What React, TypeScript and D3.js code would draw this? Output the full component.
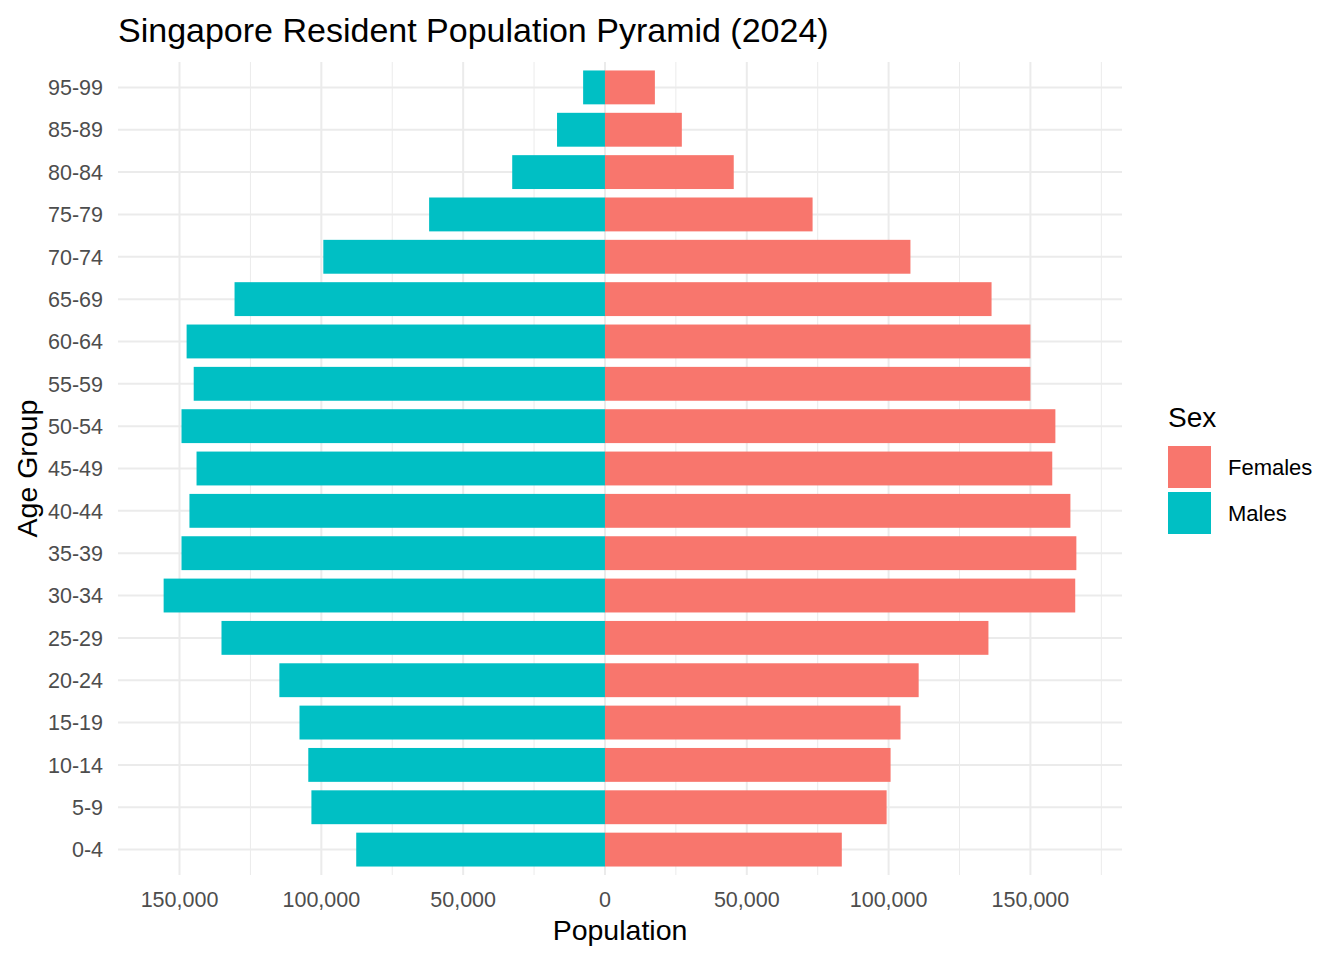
import * as d3 from "d3";

// age groups, bottom to top (90-94 is absent in the source)
const ageGroups = [
  "0-4", "5-9", "10-14", "15-19", "20-24", "25-29", "30-34", "35-39", "40-44",
  "45-49", "50-54", "55-59", "60-64", "65-69", "70-74", "75-79", "80-84", "85-89", "95-99",
];
const males = [
  87700, 103500, 104600, 107700, 114800, 135200, 155600, 149300, 146500,
  144000, 149300, 145000, 147500, 130600, 99300, 62000, 32700, 16900, 7700,
];
const females = [
  83500, 99300, 100700, 104200, 110600, 135200, 165800, 166200, 164100,
  157700, 158800, 150000, 150000, 136300, 107700, 73200, 45400, 27100, 17600,
];
const xTicks = [-150000, -100000, -50000, 0, 50000, 100000, 150000];
const xMinorTicks = [-125000, -75000, -25000, 25000, 75000, 125000, 175000];
const seriesNames = ["Females", "Males"];
const seriesColors = ["#F8766D", "#00BFC4"];

const W = 1344;
const H = 960;
const panel = { left: 118, right: 1122, top: 62, bottom: 875 };
const font = "'Liberation Sans', Arial, sans-serif";

export default function App() {
  // ggplot-style 5% expansion of the data range
  const lo = -d3.max(males)!;
  const hi = d3.max(females)!;
  const pad = (hi - lo) * 0.05;
  const x = d3.scaleLinear().domain([lo - pad, hi + pad]).range([panel.left, panel.right]);

  // discrete axis with 0.6 unit expansion on each side
  const n = ageGroups.length;
  const y = d3
    .scaleLinear()
    .domain([-0.6, n - 1 + 0.6])
    .range([panel.bottom, panel.top]);
  const step = Math.abs(y(1) - y(0));
  const barH = step * 0.8;
  const fmt = d3.format(",");

  return (
    <svg width={W} height={H} style={{ display: "block", position: "absolute", left: 0, top: 0 }}>
      <rect width={W} height={H} fill="#fff" />
      {/* minor grid */}
      {xMinorTicks
        .filter((t) => x(t) >= panel.left && x(t) <= panel.right)
        .map((t) => (
          <line key={"mx" + t} x1={x(t)} x2={x(t)} y1={panel.top} y2={panel.bottom} stroke="#EBEBEB" strokeWidth={1} />
        ))}
      {/* major grid */}
      {xTicks.map((t) => (
        <line key={"gx" + t} x1={x(t)} x2={x(t)} y1={panel.top} y2={panel.bottom} stroke="#EBEBEB" strokeWidth={2} />
      ))}
      {ageGroups.map((g, i) => (
        <line key={"gy" + g} x1={panel.left} x2={panel.right} y1={y(i)} y2={y(i)} stroke="#EBEBEB" strokeWidth={2} />
      ))}
      {/* bars */}
      {ageGroups.map((g, i) => (
        <g key={"b" + g}>
          <rect x={x(-males[i])} y={y(i) - barH / 2} width={x(0) - x(-males[i])} height={barH} fill={seriesColors[1]} />
          <rect x={x(0)} y={y(i) - barH / 2} width={x(females[i]) - x(0)} height={barH} fill={seriesColors[0]} />
        </g>
      ))}
      {/* y tick labels */}
      {ageGroups.map((g, i) => (
        <text key={"ty" + g} x={103} y={y(i)} dy="0.36em" textAnchor="end" fontFamily={font} fontSize={21.5} fill="#4D4D4D">
          {g}
        </text>
      ))}
      {/* x tick labels */}
      {xTicks.map((t) => (
        <text key={"tx" + t} x={x(t)} y={907} textAnchor="middle" fontFamily={font} fontSize={21.5} fill="#4D4D4D">
          {fmt(Math.abs(t))}
        </text>
      ))}
      {/* axis titles */}
      <text x={(panel.left + panel.right) / 2} y={940} textAnchor="middle" fontFamily={font} fontSize={28.5} fill="#000">
        Population
      </text>
      <text
        transform={`translate(37,${(panel.top + panel.bottom) / 2}) rotate(-90)`}
        textAnchor="middle"
        fontFamily={font}
        fontSize={28.5}
        fill="#000"
      >
        Age Group
      </text>
      {/* title */}
      <text x={118} y={42} fontFamily={font} fontSize={34} fill="#000">
        Singapore Resident Population Pyramid (2024)
      </text>
      {/* legend */}
      <text x={1168} y={427} fontFamily={font} fontSize={28} fill="#000">
        Sex
      </text>
      {seriesNames.map((s, i) => (
        <g key={"lg" + s} transform={`translate(1168,${446 + i * 46})`}>
          <rect width={43} height={42} fill={seriesColors[i]} />
          <text x={60} y={21} dy="0.36em" fontFamily={font} fontSize={22} fill="#000">
            {s}
          </text>
        </g>
      ))}
    </svg>
  );
}
